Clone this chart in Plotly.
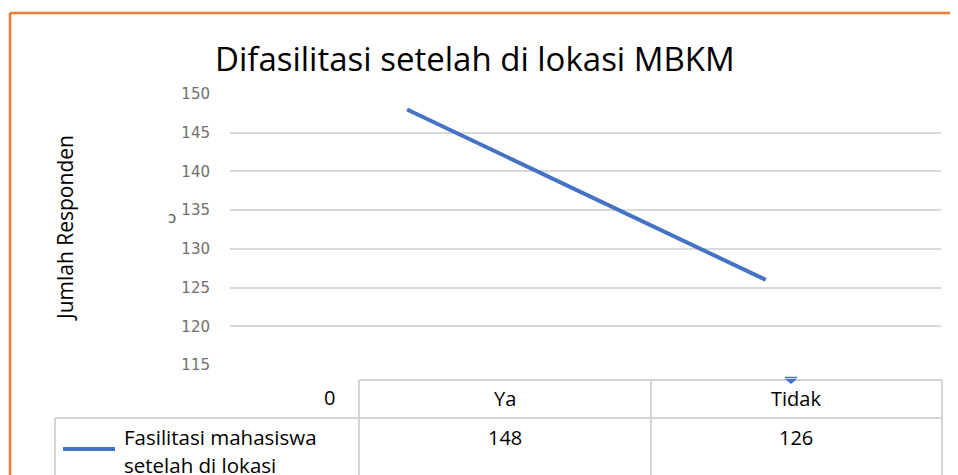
import plotly.graph_objects as go

categories = ["Ya", "Tidak"]
values = [148, 126]
series_name_lines = ["Fasilitasi mahasiswa", "setelah di lokasi"]
y_ticks = [115, 120, 125, 130, 135, 140, 145, 150]

OFF = 8  # page body margin in the browser
W, H = 958 - OFF, 475 - OFF
L, R, T, B = 230, 941, 94, 365  # plot area in reference pixels

def px(x):
    return (x - L) / (R - L)

def py(y):
    return (B - y) / (B - T)

fig = go.Figure()
fig.add_trace(go.Scatter(
    x=categories, y=values, mode="lines",
    line=dict(color="#4472C4", width=4),
    showlegend=False, hoverinfo="skip",
))

grid = "#d9d9d9"
tbl = "#d4d4d4"

def seg(x0, y0, x1, y1, color, width):
    return dict(type="line", xref="paper", yref="paper", x0=px(x0), x1=px(x1),
                y0=py(y0), y1=py(y1), line=dict(color=color, width=width))

tri = "M {:.5f} {:.5f} L {:.5f} {:.5f} L {:.5f} {:.5f} Z".format(
    px(785), py(379), px(797), py(379), px(791), py(384))

shapes = [
    seg(10, 13, 970, 13, "#ED7D31", 2.5),
    seg(10, 13, 10, 490, "#ED7D31", 2.5),
    seg(359, 380, 942, 380, tbl, 2),
    seg(55, 418, 942, 418, tbl, 2),
    seg(359, 380, 359, 490, tbl, 2),
    seg(651, 380, 651, 490, tbl, 2),
    seg(942, 380, 942, 490, tbl, 2),
    seg(55, 418, 55, 490, tbl, 2),
    seg(63, 449, 115, 449, "#4472C4", 4),
    seg(785, 377.5, 797, 377.5, "#4472C4", 1.5),
    dict(type="path", xref="paper", yref="paper", path=tri,
         fillcolor="#4472C4", line=dict(width=0)),
]

FONT = "Open Sans"
txt_font = dict(family=FONT, size=20, color="#000000")

def note(text, x, y, xanchor="center", font=txt_font, angle=0):
    return dict(text=text, xref="paper", yref="paper", x=px(x), y=py(y),
                xanchor=xanchor, yanchor="middle", showarrow=False, font=font,
                textangle=angle)

annotations = [
    note("Difasilitasi setelah di lokasi MBKM", 475, 59,
         font=dict(family=FONT, size=33, color="#000000")),
    note("Jumlah Responden", 65, 228, font=dict(family=FONT, size=21, color="#000000"), angle=-90),
    note("0", 337, 397, xanchor="right"),
    note("ↄ", 172, 218, font=dict(family="DejaVu Sans", size=15, color="#595959")),
]
col_centers = [505, 796]
for c, v, cx in zip(categories, values, col_centers):
    annotations.append(note(c, cx, 398))
    annotations.append(note(str(v), cx, 437))
for i, line in enumerate(series_name_lines):
    annotations.append(note(line, 122, 437 + 28 * i, xanchor="left",
                            font=dict(family=FONT, size=20.5, color="#000000")))

fig.update_layout(
    width=W, height=H,
    margin=dict(l=L - OFF, r=958 - R, t=T - OFF, b=475 - B, pad=0),
    paper_bgcolor="white", plot_bgcolor="white",
    xaxis=dict(type="category", range=[-0.494, 1.489], showticklabels=False,
               showgrid=False, zeroline=False, showline=False, ticks=""),
    yaxis=dict(range=[115, 150], tickvals=y_ticks, showgrid=True, gridcolor=grid, gridwidth=1.5,
               zeroline=False, showline=False, ticks="", ticklabelstandoff=19,
               tickfont=dict(family="DejaVu Sans", size=15, color="#6f6f6f")),
    shapes=shapes, annotations=annotations,
    showlegend=False,
)

fig.write_html("out.html")
